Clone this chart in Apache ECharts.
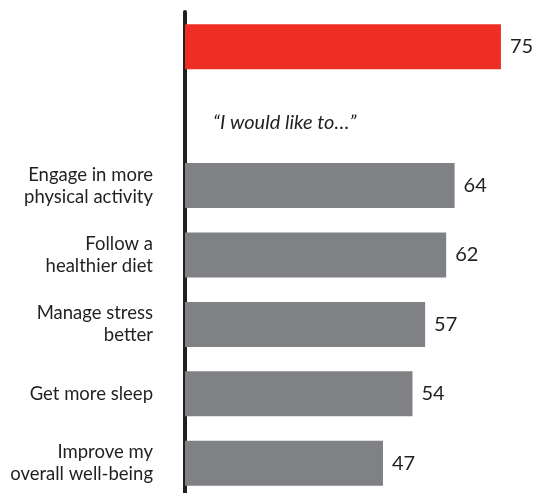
<!DOCTYPE html>
<html>
<head>
<meta charset="utf-8">
<script src="https://cdn.jsdelivr.net/npm/echarts@6/dist/echarts.min.js"></script>
<style>
html,body{margin:0;padding:0;background:#fff;}
#chart{width:535px;height:493px;}
</style>
</head>
<body>
<div id="chart"></div>
<script>
// rows, top to bottom (first is the overall total, second is the quote row)
var categories = ['', '', 'Engage in more\nphysical activity', 'Follow a\nhealthier diet', 'Manage stress\nbetter', 'Get more sleep', 'Improve my\noverall well-being'];
var values = [75, null, 64, 62, 57, 54, 47];
var quoteText = '\u201cI would like to\u2026\u201d';

var chart = echarts.init(document.getElementById('chart'));

var barData = values.map(function(v, i){
	return {
		value: v,
		itemStyle: { color: i === 0 ? '#ee2e24' : '#808184' }
	};
});

chart.setOption({
	animation: false,
	grid: { left: 185, right: 13, top: 12, height: 486, outerBoundsMode: 'none' },
	xAxis: {
		type: 'value',
		min: 0,
		max: 80,
		show: false,
		splitLine: { show: false }
	},
	yAxis: {
		type: 'category',
		inverse: true,
		data: categories,
		axisLine: { lineStyle: { color: '#231f20', width: 4 } },
		axisTick: { show: false },
		axisLabel: {
			margin: 32,
			color: '#231f20',
			fontFamily: 'Lato',
			fontSize: 18.5,
			lineHeight: 22,
			align: 'right'
		}
	},
	graphic: [{
		type: 'text',
		left: 213,
		top: 113,
		style: {
			text: quoteText,
			fontFamily: 'Lato',
			fontStyle: 'italic',
			fontSize: 20,
			fill: '#231f20'
		}
	}],
	series: [{
		type: 'bar',
		data: barData,
		barWidth: 45,
		label: {
			show: true,
			position: 'right',
			distance: 9,
			color: '#231f20',
			fontFamily: 'Lato',
			fontSize: 20
		}
	}]
});
</script>
</body>
</html>
